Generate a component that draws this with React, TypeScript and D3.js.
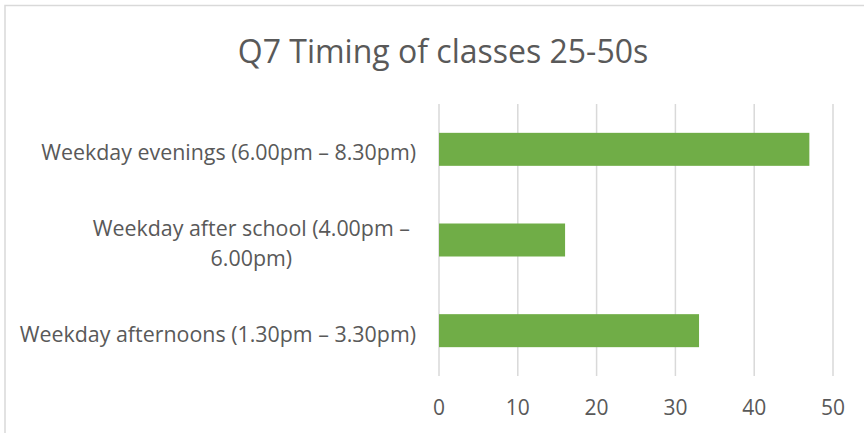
import React, { useEffect, useRef } from "react";
import * as d3 from "d3";

const title = "Q7 Timing of classes 25-50s";
const categories = [
  "Weekday evenings (6.00pm – 8.30pm)",
  "Weekday after school (4.00pm – 6.00pm)",
  "Weekday afternoons (1.30pm – 3.30pm)",
];
const categoryLabelLines = [
  ["Weekday evenings (6.00pm – 8.30pm)"],
  ["Weekday after school (4.00pm –", "6.00pm)"],
  ["Weekday afternoons (1.30pm – 3.30pm)"],
];
const values = [47, 16, 33];
const xTicks = [0, 10, 20, 30, 40, 50];

const W = 864;
const H = 433;
const FONT = "'Open Sans', 'Noto Sans', sans-serif";
const TEXT = "#595959";
const GRID = "#d9d9d9";
const BAR = "#70ad47";

export default function App() {
  const ref = useRef<SVGSVGElement | null>(null);

  useEffect(() => {
    const svg = d3.select(ref.current);
    svg.selectAll("*").remove();

    const plot = { left: 439, right: 833, top: 104, bottom: 376 };

    const x = d3.scaleLinear().domain([0, 50]).range([plot.left, plot.right]);
    const y = d3
      .scaleBand<string>()
      .domain(categories)
      .range([plot.top, plot.bottom])
      .paddingInner(0.636)
      .paddingOuter(0.318);

    svg.append("rect").attr("width", W).attr("height", H).attr("fill", "#fff");

    // chart border
    svg
      .append("rect")
      .attr("x", 5)
      .attr("y", 5.5)
      .attr("width", W + 20)
      .attr("height", H + 20)
      .attr("fill", "none")
      .attr("stroke", GRID)
      .attr("stroke-width", 1.5);

    // title
    svg
      .append("text")
      .attr("x", 443)
      .attr("y", 63)
      .attr("text-anchor", "middle")
      .attr("font-family", FONT)
      .attr("font-size", 32)
      .attr("fill", TEXT)
      .text(title);

    // gridlines
    svg
      .append("g")
      .selectAll("line")
      .data(xTicks)
      .join("line")
      .attr("x1", (d) => x(d))
      .attr("x2", (d) => x(d))
      .attr("y1", plot.top)
      .attr("y2", plot.bottom)
      .attr("stroke", GRID)
      .attr("stroke-width", 1.5);

    // tick labels
    svg
      .append("g")
      .selectAll("text")
      .data(xTicks)
      .join("text")
      .attr("x", (d) => x(d))
      .attr("y", 415)
      .attr("text-anchor", "middle")
      .attr("font-family", FONT)
      .attr("font-size", 21)
      .attr("fill", TEXT)
      .text((d) => String(d));

    // bars
    svg
      .append("g")
      .selectAll("rect")
      .data(values)
      .join("rect")
      .attr("x", x(0))
      .attr("y", (_, i) => y(categories[i]) as number)
      .attr("width", (d) => x(d) - x(0))
      .attr("height", y.bandwidth())
      .attr("fill", BAR);

    // category labels
    const labelRight = 416;
    const lineH = 29.5;
    categories.forEach((c, i) => {
      const lines = categoryLabelLines[i];
      const cy = (y(c) as number) + y.bandwidth() / 2;
      const g = svg.append("g");
      const texts = lines.map((ln, j) =>
        g
          .append("text")
          .attr("y", cy + 11 + (j - (lines.length - 1) / 2) * lineH)
          .attr("font-family", FONT)
          .attr("font-size", 21.4)
          .attr("fill", TEXT)
          .text(ln)
      );
      if (lines.length === 1) {
        texts[0].attr("x", labelRight).attr("text-anchor", "end");
      } else {
        const widths = texts.map((t) => (t.node() as SVGTextElement).getComputedTextLength());
        const maxW = Math.max(...widths);
        const cx = labelRight - 6 - maxW / 2;
        texts.forEach((t) => t.attr("x", cx).attr("text-anchor", "middle"));
      }
    });
  }, []);

  return (
    <svg
      ref={ref}
      width={W}
      height={H}
      style={{ position: "absolute", left: 0, top: 0, display: "block" }}
    />
  );
}
